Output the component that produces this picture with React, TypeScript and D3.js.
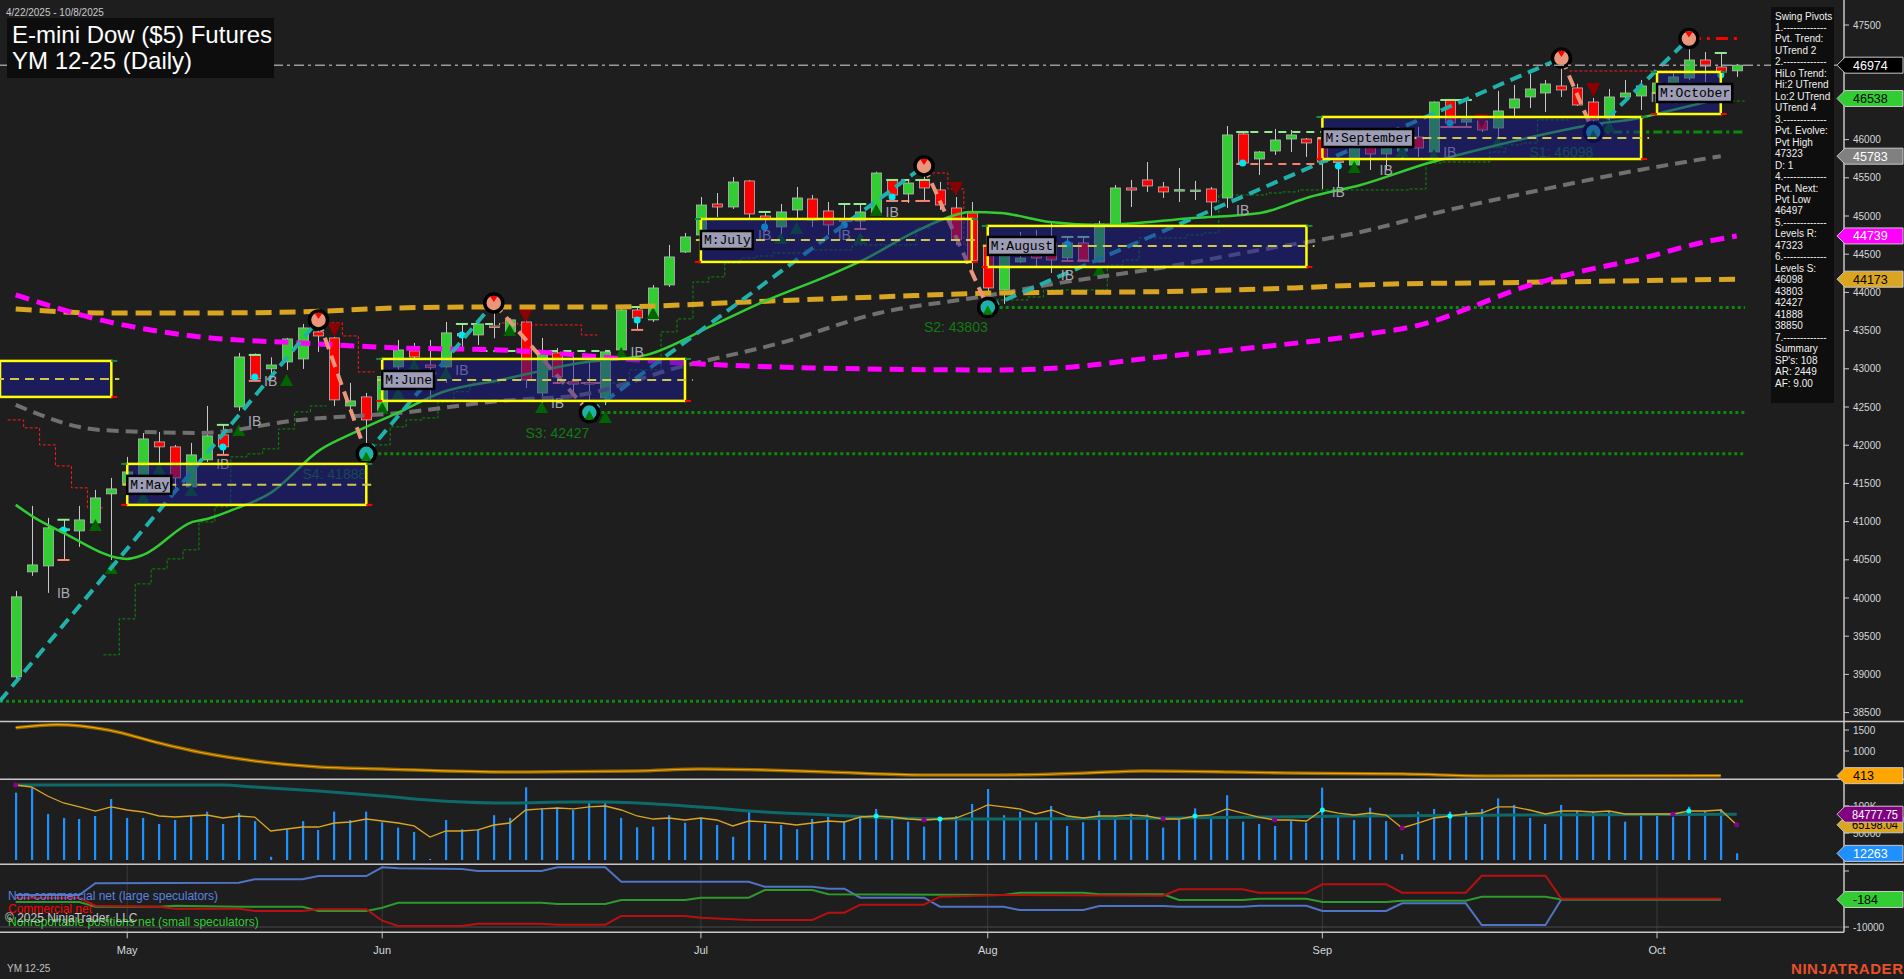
import React from 'react';
import * as d3 from 'd3';

const W = 1904;
const H = 979;
const AX = 1844;
const Y_MAIN_BOTTOM = 721.5;
const Y_ATR_BOTTOM = 779.3;
const Y_VOL_BOTTOM = 864.3;
const Y_COT_BOTTOM = 932.3;
const FONT = 'Liberation Sans, Arial, sans-serif';

// Daily OHLC, 4/22/2025 .. 10/8/2025  [open, high, low, close]
const CANDLES: number[][] = [
  [38968, 40093, 38900, 40015], [40342, 41206, 40290, 40433], [40420, 41049, 40067, 40918], [40890, 41023, 40499, 40905],
  [40878, 41206, 40669, 41022], [40983, 41415, 40970, 41310], [41363, 41572, 40499, 41428], [41500, 41847, 41415, 41650],
  [41546, 42160, 41480, 42082], [42043, 42174, 41716, 41978], [41978, 42004, 41415, 41572], [41454, 42030, 41415, 41873],
  [41808, 42514, 41781, 42122], [42135, 42266, 41873, 41978], [42501, 43208, 42450, 43155], [43182, 43200, 42842, 42868],
  [43000, 43150, 42900, 43050], [43090, 43404, 42985, 43391], [43129, 43587, 42998, 43535], [43483, 43640, 43221, 43430],
  [43404, 43420, 42514, 42593], [42514, 42815, 42460, 42580], [42632, 42684, 41888, 42331], [42450, 43050, 42420, 42900],
  [43025, 43378, 42789, 43247], [43234, 43338, 43116, 43155], [43050, 43378, 42600, 43020], [43025, 43613, 42815, 43470],
  [43430, 43587, 43286, 43460], [43443, 43600, 43312, 43587], [43560, 43862, 43400, 43545], [43483, 43660, 43450, 43640],
  [43613, 43666, 42750, 42855], [42684, 43404, 42553, 43208], [43208, 43273, 42815, 42894], [42830, 43221, 42632, 42800],
  [42820, 43090, 42427, 42800], [42619, 43247, 42527, 43221], [43247, 43796, 43182, 43770], [43770, 43809, 43509, 43666],
  [43640, 44098, 43613, 44058], [44098, 44621, 44071, 44464], [44529, 44778, 44516, 44726], [44752, 45249, 44600, 45144],
  [45157, 45301, 44987, 45118], [45118, 45511, 45092, 45445], [45459, 45472, 44948, 45027], [45000, 45053, 44791, 44960],
  [44857, 45157, 44726, 45053], [45079, 45380, 44948, 45236], [45223, 45275, 44857, 44948], [45066, 45184, 44752, 44883],
  [44950, 45157, 44883, 44930], [44935, 45157, 44830, 45053], [45040, 45580, 45000, 45563], [45472, 45480, 45197, 45275],
  [45288, 45485, 45171, 45432], [45472, 45655, 45197, 45367], [45341, 45446, 45079, 45144], [45105, 45249, 44621, 44687],
  [45040, 45184, 44300, 44420], [44621, 44687, 43803, 44058], [44032, 44687, 43850, 44595], [44400, 44791, 44386, 44450],
  [44500, 44817, 44334, 44450], [44647, 44922, 44255, 44425], [44451, 44726, 44412, 44647], [44647, 44726, 44412, 44425],
  [44399, 44935, 44390, 44896], [44883, 45406, 44857, 45367], [45367, 45472, 45118, 45340], [45472, 45707, 45315, 45393],
  [45380, 45446, 45236, 45315], [45340, 45629, 45184, 45345], [45330, 45459, 45210, 45340], [45354, 45380, 44987, 45184],
  [45236, 46178, 45105, 46061], [46074, 46100, 45668, 45694], [45746, 45850, 45537, 45838], [45851, 46139, 45799, 45995],
  [46008, 46126, 45838, 46061], [46008, 46020, 45773, 45956], [46008, 46087, 45354, 45707], [45720, 45720, 45380, 45700],
  [45668, 46100, 45600, 46034], [45904, 46000, 45602, 45812], [45812, 45950, 45600, 45904], [45850, 46050, 45750, 45950],
  [46034, 46165, 45773, 45890], [45838, 46500, 45800, 46492], [46519, 46530, 46165, 46218], [46230, 46519, 46165, 46270],
  [46244, 46260, 46100, 46126], [46152, 46637, 46034, 46375], [46414, 46715, 46283, 46532], [46558, 46859, 46414, 46663],
  [46610, 46780, 46361, 46728], [46702, 47068, 46558, 46650], [46676, 46730, 46440, 46453], [46492, 46545, 46098, 46257],
  [46283, 46663, 46165, 46558], [46558, 46780, 46519, 46610], [46571, 46780, 46388, 46702], [46610, 46800, 46560, 46740],
  [46741, 46870, 46700, 46820], [46806, 47323, 46780, 47042], [47042, 47147, 46754, 46963], [46950, 47134, 46820, 46885],
  [46900, 46990, 46820, 46974],
];

const VOLUME_K = [
  124.7, 134, 85, 78, 76, 81.5, 113, 78, 78, 66.7,
  74, 82, 89.5, 66.7, 87, 72, 6, 57, 72, 55.6,
  89.5, 74, 89.5, 70, 60, 52, 2, 74, 57, 57,
  83, 78, 134.6, 95.7, 97.6, 92.6, 108, 106, 78, 60.5,
  61.7, 83, 69, 78, 64.8, 43, 90.7, 66.7, 64.8, 57,
  76, 80, 72, 79, 94.5, 79, 71, 61.7, 78, 81.5,
  103.7, 131.5, 83, 89.5, 70, 100, 63, 70, 90.7, 81.5,
  86.4, 84.6, 60, 75, 95.7, 79, 120, 71, 66.7, 63,
  72, 69, 134, 81.5, 74, 97, 72, 11, 89.5, 94.5,
  89.5, 90.7, 94.5, 114, 102, 78, 66.7, 102, 91, 89.5,
  91, 71, 83, 86, 80, 98.7, 90.7, 94, 12.263,
];

const VOL_AVG_K = [
  138.9, 135.2, 118.5, 105.6, 98.2, 90.7, 98.2, 92.6, 88.9, 81.5,
  79.6, 81.5, 83.3, 77.8, 81.5, 79.6, 53.7, 57.4, 61.1, 61.1,
  68.5, 70.4, 75.9, 72.2, 68.5, 63.0, 42.6, 53.7, 53.7, 55.6,
  64.8, 68.5, 92.6, 94.5, 96.3, 94.5, 98.2, 100, 92.6, 81.5,
  75.9, 77.8, 74.1, 77.8, 74.1, 63.0, 72.2, 70.4, 68.5, 64.8,
  68.5, 72.2, 70.4, 79.6, 81.5, 79.6, 75.9, 74.1, 75.9, 77.8,
  88.9, 101.9, 98.2, 94.5, 85.2, 92.6, 81.5, 77.8, 81.5, 81.5,
  83.3, 81.5, 75.9, 75.9, 81.5, 83.3, 94.5, 87.0, 79.6, 74.1,
  74.1, 72.2, 92.6, 87.0, 83.3, 87.0, 83.3, 59.3, 68.5, 77.8,
  81.5, 85.2, 87.0, 98.2, 98.2, 92.6, 85.2, 90.7, 90.7, 88.9,
  90.7, 85.2, 85.2, 85.2, 85.2, 90.7, 90.7, 92.6, 65.198,
];

const VOL_LONG_K = [
  [0, 138.9], [13, 138.9], [15, 135], [19, 127.8], [23, 118.5], [27, 109], [31, 105.6], [35, 107.4], [37, 107.4],
  [39, 105.6], [43, 98], [47, 88.9], [51, 83.3], [55, 77.8], [59, 75.9], [62, 75.9], [73, 77.8], [84, 81.5],
  [94, 83.3], [108, 84.778],
];
const VOL_PURPLE_DOTS = [0, 57, 72, 79, 87, 104, 108];
const VOL_CYAN_DOTS = [54, 58, 74, 82, 90, 105];

const ATR = [
  [0, 1555], [2.6, 1626], [5.8, 1500], [9, 1190], [11.8, 952], [15, 762], [19, 619], [23, 572], [31, 500],
  [39, 524], [43, 572], [47, 548], [51, 500], [57, 429], [61.8, 429], [67.2, 476], [70.8, 524], [76.3, 500],
  [79.8, 476], [87.1, 453], [92.5, 405], [107, 413],
];

const MA_MAGENTA = [
  [0, 43967], [5.3, 43640], [11.6, 43417], [17.8, 43339], [24.1, 43273], [30.4, 43247], [41.7, 43077], [50, 43011],
  [61.8, 42985], [65.5, 43011], [71.8, 43155], [78.1, 43286], [84.4, 43443], [88.6, 43600], [91.7, 43836],
  [94.3, 44045], [98.1, 44268], [101.9, 44438], [105.7, 44647], [108, 44739],
];
const MA_GOLD = [
  [0, 43784], [5.2, 43731], [11.6, 43731], [17.8, 43744], [24.1, 43797], [30.4, 43810], [37.5, 43810], [45.9, 43875],
  [54.2, 43941], [61.8, 43993], [71.8, 44010], [80.2, 44059], [86.4, 44111], [91.9, 44124], [108, 44173],
];
const MA_GRAY = [
  [0, 42527], [5.3, 42200], [11.6, 42161], [17.8, 42331], [24.1, 42423], [30.4, 42580], [35.4, 42658], [41.7, 43025],
  [48, 43339], [54.2, 43731], [60.5, 43941], [65.5, 44124], [71.8, 44320], [78.1, 44556], [84.4, 44791],
  [89.4, 45053], [95.7, 45341], [101.9, 45603], [107, 45783],
];
const MA_GREEN = [
  [0, 41219], [1.1, 41062], [3, 40852], [7, 40512], [8, 40564], [11.1, 40996], [12, 41035], [13.6, 41153], [16, 41376],
  [19.1, 41939], [21.2, 42161], [24.1, 42436], [26.8, 42697], [30.4, 42854], [35.4, 43077], [39.6, 43182],
  [43.8, 43574], [46.9, 43875], [51.1, 44229], [53.2, 44425], [56.3, 44778], [58.4, 44974], [59.9, 45053],
  [61.8, 45040], [64.9, 44922], [68.1, 44883], [73.9, 44974], [78.1, 45040], [81.2, 45249], [84.4, 45406],
  [88.6, 45690], [92.5, 45904], [95.7, 46061], [98.8, 46192], [101.9, 46284], [104, 46388], [107, 46538],
];

// swing pivots [bar, price, type]
const PIVOTS: [number, number, string][] = [
  [-1, 38650, 'L'], [19, 43640, 'H'], [22, 41888, 'L'], [30, 43862, 'H'], [36, 42427, 'L'],
  [57, 45655, 'H'], [61, 43803, 'L'], [97, 47068, 'H'], [99, 46098, 'L'], [105, 47323, 'H'],
];
// support levels [label, bar, price]
const LEVELS: [string, number, number][] = [
  ['', -1, 38650], ['S4: 41888', 22, 41888], ['S3: 42427', 36, 42427], ['S2: 43803', 61, 43803], ['S1: 46098', 99, 46098],
];
// monthly boxes [label, first bar, last bar, top, bottom, mid]
const BOXES: [string, number, number, number, number, number][] = [
  ['', -1.5, 6, 43103, 42632, 42867],
  ['M:May', 7, 22, 41755, 41219, 41481],
  ['M:June', 23, 42, 43129, 42580, 42854],
  ['M:July', 43, 60, 44961, 44399, 44686],
  ['M:August', 61, 81, 44870, 44333, 44608],
  ['M:September', 82, 102, 46296, 45746, 46021],
  ['M:October', 103, 107, 46885, 46335, 46610],
];
const IB_LABELS = [
  [3, 40067], [13, 41755], [15, 42318], [16, 42841], [28, 42985], [34, 42553], [39, 43221], [47, 44752], [52, 44752],
  [55, 45053], [66, 44229], [77, 45079], [83, 45315], [86, 45603], [90, 45838], [103, 46558],
];
const UP_TRI = [
  [5, 40957], [6, 40394], [8, 41323], [9, 41690], [11, 41415], [14, 42200], [17, 42854], [23, 42488], [24, 42684],
  [25, 43051], [27, 42946], [31, 43509], [33, 42501], [37, 42370], [38, 43208], [40, 43731], [48, 44713], [49, 44843],
  [53, 44713], [54, 45079], [68, 44294], [84, 45642], [87, 45851], [89, 45799], [93, 45969], [100, 46178], [105, 46689],
];
const DOWN_TRI = [[20, 43509], [32, 43692], [59, 45354], [92, 46244], [99, 46649]];
const CYAN_DOTS = [
  [3, 40890], [13, 41978], [15, 42894], [28, 43443], [39, 43640], [47, 44857], [52, 44883], [55, 45249], [66, 44634],
  [77, 45694], [83, 45655], [90, 46218], [107, 46846],
];
// inside-bar marks [bar, upper, lower]
const IB_TICKS: [number, number | null, number | null][] = [
  [3, 41023, 40499], [13, 42266, 41873], [15, 43182, 42842], [28, 43587, null], [39, 43809, 43509], [47, 45053, null],
  [52, 45157, null], [53, 45157, 44830], [55, 45472, 45197], [57, 45472, 45197], [66, 44726, 44412], [67, 44726, 44412],
  [77, 46100, null], [90, 46519, 46165], [91, 46519, 46165], [107, 47134, null],
];
const DASH_HI = [[27.7, 30.4, 43587], [29.1, 37.3, 43234], [51.7, 53.4, 45157], [54.7, 57.3, 45472], [76.6, 82, 46100], [89.4, 91.3, 46519]];
const DASH_LO = [[33.7, 37.3, 42815], [54.7, 57.3, 45197], [76.6, 82, 45681], [89.4, 91.3, 46165]];

const STOP_UP = [
  [[6, 39256], [7, 39727], [8, 40185], [9, 40381], [10, 40512], [11, 40630], [12, 40996], [13, 41193], [14, 41847],
    [15, 41886], [16, 41952], [17, 42213], [18, 42436], [19, 42514]],
  [[23, 42004], [24, 42240], [25, 42331], [26, 42357], [27, 42567], [28, 42700], [29, 42815], [30, 42815]],
  [[37, 42815], [38, 42815], [39, 42985], [40, 42985], [41, 43483], [42, 43653], [43, 44137], [44, 44203], [45, 44386],
    [46, 44451], [47, 44477], [48, 44516], [49, 44516], [50, 44556], [51, 44556], [52, 44556], [53, 44621], [54, 44621],
    [55, 44621], [56, 44621], [57, 44843]],
  [[62, 43901], [63, 43901], [64, 43940], [65, 44032], [66, 44032], [67, 44032], [68, 44032], [69, 44359], [70, 44425],
    [71, 44713], [72, 44713], [73, 44713], [74, 44752], [75, 44778], [76, 45275], [77, 45275], [78, 45275], [79, 45301],
    [80, 45315], [81, 45341], [82, 45341], [83, 45341], [84, 45341], [85, 45341], [86, 45341], [87, 45341], [88, 45354],
    [89, 45694], [90, 45707], [91, 45707], [92, 45707], [93, 45838], [94, 45930], [95, 45956], [96, 46257], [97, 46257]],
  [[106, 46505], [107, 46505], [108, 46505]],
];
const STOP_DN = [
  [[0, 42331], [1, 42227], [2, 42004], [3, 41729], [4, 41442], [5, 41180]],
  [[20, 43600], [21, 43430], [22, 42959]],
  [[31, 43600], [32, 43574], [33, 43574], [34, 43574], [35, 43574], [36, 43443]],
  [[58, 45563], [59, 45354], [60, 44621]],
  [[98, 46898], [99, 46898], [100, 46898], [101, 46898], [102, 46898], [103, 46898], [104, 46898]],
];

// COT weekly nets
const COT_LARGE = [
  [0, 1428], [4, 1428], [5, 5605], [14, 5819], [15, 7033], [18, 7033], [19, 8211], [22, 8211], [23, 11317], [24, 10960],
  [28, 10710], [29, 9996], [33, 9996], [34, 11317], [37, 11317], [38, 6176], [46, 6176], [47, 4391], [50, 4391],
  [51, 3677], [52, 3677], [53, 464], [57, 464], [58, -2749], [62, -2749], [63, -3927], [67, -3927], [68, -2499],
  [72, -2499], [73, -2749], [77, -2749], [78, -2392], [81, -2392], [82, -4284], [86, -4284], [87, -1535], [91, -1535],
  [92, -9282], [96, -9282], [97, -107], [107, -107],
];
const COT_COMM = [
  [0, 357], [4, 357], [5, -2392], [9, -2749], [10, -3463], [14, -3463], [15, -4284], [18, -4284], [19, -3677], [22, -3677],
  [23, -7747], [24, -9639], [28, -9639], [29, -8818], [33, -8818], [34, -9175], [37, -9175], [38, -6069], [42, -6069],
  [43, -6676], [46, -7497], [50, -7497], [51, -4891], [52, -4891], [53, -2035], [57, -2035], [58, 821], [62, 1428],
  [72, 1178], [73, 3463], [77, 3463], [78, 2249], [81, 2249], [82, 5248], [86, 5248], [87, 2249], [91, 2249],
  [92, 8318], [96, 8318], [97, 107], [107, 107],
];
const COT_SMALL = [
  [0, -1071], [4, -1071], [5, -2749], [9, -2749], [10, -2392], [14, -2749], [18, -2749], [19, -4284], [22, -4284],
  [23, -3106], [24, -1321], [33, -1321], [34, -1785], [37, -1785], [38, -357], [42, -357], [43, 464], [46, 464],
  [47, 3213], [50, 3213], [51, 1678], [62, 1428], [63, 2249], [67, 2249], [68, 1678], [72, 1678], [73, -357],
  [77, -357], [78, 107], [81, 107], [82, -1071], [86, -1071], [87, -607], [91, -607], [92, 821], [96, 821],
  [97, -184], [107, -184],
];

const MONTHS: [string, number][] = [['May', 7], ['Jun', 23], ['Jul', 43], ['Aug', 61], ['Sep', 82], ['Oct', 103]];
const PRICE_TICKS = [38500, 39000, 39500, 40000, 40500, 41000, 41500, 42000, 42500, 43000, 43500, 44000, 44500, 45000, 45500, 46000, 46500, 47000, 47500];
const LAST_PRICE = 46974;
// right-axis price markers [value, background, text colour]
const MAIN_TAGS: [number, string, string][] = [
  [46974, '#000000', '#ffffff'], [46538, '#32cd32', '#000000'], [45783, '#808080', '#ffffff'],
  [44739, '#ff00ff', '#ffffff'], [44173, '#daa520', '#000000'],
];

const INFO_LINES = [
  'Swing Pivots', '1.-------------', 'Pvt. Trend:', 'UTrend 2', '2.-------------', 'HiLo Trend:', 'Hi:2 UTrend',
  'Lo:2 UTrend', 'UTrend 4', '3.-------------', 'Pvt. Evolve:', 'Pvt High', '47323', 'D: 1', '4.-------------',
  'Pvt. Next:', 'Pvt Low', '46497', '5.-------------', 'Levels R:', '47323', '6.-------------', 'Levels S:', '46098',
  '43803', '42427', '41888', '38850', '7.-------------', 'Summary', "SP's: 108", 'AR: 2449', 'AF: 9.00',
];

export default function App() {
  const x = d3.scaleLinear().domain([0, 108]).range([15.7, 1736.7]);
  const y = d3.scaleLinear().domain([38500, 47500]).range([712.6, 25]);
  const yA = d3.scaleLinear().domain([1000, 1500]).range([751, 730]);
  const yV = d3.scaleLinear().domain([0, 100]).range([860, 806]);
  const yC = d3.scaleLinear().domain([-10000, 10000]).range([927, 871]);

  const knotLine = (ys: (v: number) => number, curve: any = d3.curveMonotoneX) =>
    d3.line<number[]>().x(d => x(d[0])).y(d => ys(d[1])).curve(curve);

  const stairPath = (seg: number[][]) => {
    let d = '';
    seg.forEach(([i, v], k) => {
      const xa = x(i - 0.5), xb = x(i + 0.5), yy = y(v);
      d += (k === 0 ? `M${xa},${yy}` : `L${xa},${yy}`) + `H${xb}`;
    });
    return d;
  };

  const tag = (ty: number, bg: string, fg: string, label: string, key: string) => (
    <g key={key}>
      <polygon points={`${AX - 7},${ty} ${AX + 1},${ty - 8} 1903,${ty - 8} 1903,${ty + 8} ${AX + 1},${ty + 8}`}
        fill={bg} stroke="#c8c8c8" strokeWidth={1} />
      {label.length > 6
        ? <text x={1852} y={ty + 4.5} fontSize={12.5} fontFamily={FONT} fill={fg} textLength={46} lengthAdjust="spacingAndGlyphs">{label}</text>
        : <text x={1853} y={ty + 4.5} fontSize={12.5} fontFamily={FONT} fill={fg}>{label}</text>}
    </g>
  );

  const volLine = d3.line<number>().x((_, i) => x(i)).y(d => yV(d));
  const mainTagYs = MAIN_TAGS.map(t => y(t[0]));

  return (
    <svg width={W} height={H} style={{ position: 'absolute', left: 0, top: 0, display: 'block', background: '#1e1e1e' }}>
      <defs>
        <clipPath id="mainClip"><rect x={0} y={0} width={AX} height={Y_MAIN_BOTTOM} /></clipPath>
        <clipPath id="atrClip"><rect x={0} y={Y_MAIN_BOTTOM} width={AX} height={Y_ATR_BOTTOM - Y_MAIN_BOTTOM} /></clipPath>
        <clipPath id="volClip"><rect x={0} y={Y_ATR_BOTTOM} width={AX} height={Y_VOL_BOTTOM - Y_ATR_BOTTOM} /></clipPath>
        <clipPath id="cotClip"><rect x={0} y={Y_VOL_BOTTOM} width={AX} height={Y_COT_BOTTOM - Y_VOL_BOTTOM} /></clipPath>
      </defs>
      <rect x={0} y={0} width={W} height={H} fill="#1e1e1e" />

      {/* ===== MAIN PRICE PANEL ===== */}
      <g clipPath="url(#mainClip)">
        {LEVELS.map(([lab, i, v], k) => (
          <line key={'lv' + k} x1={Math.max(0, x(i))} x2={1745} y1={y(v)} y2={y(v)}
            stroke="#0a8a0a" strokeWidth={3} strokeDasharray={lab.startsWith('S1') ? '9 4 3 4' : '3 3'} />
        ))}
        {STOP_UP.map((s, k) => <path key={'su' + k} d={stairPath(s)} fill="none" stroke="#0c8c0c" strokeWidth={1} strokeDasharray="3 2" />)}
        {STOP_DN.map((s, k) => <path key={'sd' + k} d={stairPath(s)} fill="none" stroke="#ff1a1a" strokeWidth={1} strokeDasharray="3 2" />)}
        {DASH_HI.map(([a, b, v], k) => <line key={'dh' + k} x1={x(a)} x2={x(b)} y1={y(v)} y2={y(v)} stroke="#90ee90" strokeWidth={2} strokeDasharray="8 6" />)}
        {DASH_LO.map(([a, b, v], k) => <line key={'dl' + k} x1={x(a)} x2={x(b)} y1={y(v)} y2={y(v)} stroke="#fa8072" strokeWidth={2} strokeDasharray="8 6" />)}

        {CANDLES.map(([o, h, l, c], i) => {
          const cx = Math.round(x(i)) + 0.5;
          const yt = y(Math.max(o, c));
          const yb = y(Math.min(o, c));
          const up = c >= o;
          return (
            <g key={'c' + i}>
              <line x1={cx} x2={cx} y1={y(h)} y2={y(l)} stroke="#c8c8c8" strokeWidth={1} />
              <rect x={cx - 5} y={yt} width={10} height={Math.max(1.5, yb - yt)} fill={up ? '#32cd32' : '#ff0000'}
                stroke="#b8b8b8" strokeWidth={0.8} />
            </g>
          );
        })}
        {IB_TICKS.map(([i, hi, lo], k) => (
          <g key={'it' + k}>
            {hi !== null && <line x1={x(i) - 6} x2={x(i) + 6} y1={y(hi)} y2={y(hi)} stroke="#90ee90" strokeWidth={2} />}
            {lo !== null && <line x1={x(i) - 6} x2={x(i) + 6} y1={y(lo)} y2={y(lo)} stroke="#fa8072" strokeWidth={2} />}
          </g>
        ))}
        {UP_TRI.map(([i, v], k) => (
          <polygon key={'ut' + k} points={`${x(i)},${y(v) - 6} ${x(i) - 6.5},${y(v) + 6} ${x(i) + 6.5},${y(v) + 6}`} fill="#006400" />
        ))}
        {DOWN_TRI.map(([i, v], k) => (
          <polygon key={'dt' + k} points={`${x(i) - 7},${y(v) - 7} ${x(i) + 7},${y(v) - 7} ${x(i)},${y(v) + 7}`} fill="#8b0000" />
        ))}
        {CYAN_DOTS.map(([i, v], k) => <circle key={'cd' + k} cx={x(i)} cy={y(v)} r={3.5} fill="#00e5ee" />)}

        <path d={knotLine(y)(MA_GRAY) || ''} fill="none" stroke="#707070" strokeWidth={4} strokeDasharray="12 7" />
        <path d={knotLine(y)(MA_GOLD) || ''} fill="none" stroke="#daa520" strokeWidth={5} strokeDasharray="16 8" />
        <path d={knotLine(y)(MA_MAGENTA) || ''} fill="none" stroke="#ff00ff" strokeWidth={5} strokeDasharray="14 8" />
        <path d={knotLine(y)(MA_GREEN) || ''} fill="none" stroke="#32cd32" strokeWidth={2.5} />

        {PIVOTS.slice(1).map((p, k) => {
          const a = PIVOTS[k];
          const upLeg = p[2] === 'H';
          return <line key={'leg' + k} x1={x(a[0])} y1={y(a[1])} x2={x(p[0])} y2={y(p[1])}
            stroke={upLeg ? '#20b2aa' : '#e9967a'} strokeWidth={4} strokeDasharray="12 7" />;
        })}
        <line x1={x(105)} x2={1743} y1={y(47323)} y2={y(47323)} stroke="#ff0000" strokeWidth={3} strokeDasharray="12 6 3 6" />
        {PIVOTS.filter(p => p[0] >= 0).map((p, k) => {
          const cx = x(p[0]), cy = y(p[1]);
          const hi = p[2] === 'H';
          return (
            <g key={'pv' + k}>
              <circle cx={cx} cy={cy} r={9} fill={hi ? '#e9967a' : '#20b2aa'} stroke="#000" strokeWidth={3.5} />
              {hi
                ? <polygon points={`${cx - 4},${cy - 7} ${cx + 4},${cy - 7} ${cx},${cy - 1}`} fill="#ff0000" />
                : <polygon points={`${cx},${cy - 2} ${cx - 5},${cy + 7} ${cx + 5},${cy + 7}`} fill="#008000" />}
            </g>
          );
        })}
        {IB_LABELS.map(([i, v], k) => (
          <text key={'ib' + k} x={x(i)} y={y(v) + 5} textAnchor="middle" fontFamily={FONT} fontSize={14} fill="#a8a8b4">IB</text>
        ))}
        {LEVELS.filter(l => l[0]).map(([lab, i, v], k) => (
          <text key={'sl' + k} x={x(i)} y={y(v) + 25} textAnchor="end" fontFamily={FONT} fontSize={14} fill="#127a12">{lab}</text>
        ))}

        {BOXES.map(([lab, i0, i1, top, bot, mid], k) => {
          const x0 = Math.max(0, x(i0));
          const x1 = x(i1);
          return (
            <g key={'bx' + k}>
              <rect x={x0} y={y(top)} width={x1 - x0} height={y(bot) - y(top)} fill="#191996" fillOpacity={0.5}
                stroke="#ffff00" strokeWidth={2.5} />
              <line x1={x0 - 5} x2={x1 + 8} y1={y(mid)} y2={y(mid)} stroke="#cdc84c" strokeWidth={2} strokeDasharray="9 6" />
              <line x1={x1} x2={x1 + 6} y1={y(top)} y2={y(top)} stroke="#1e8a3c" strokeWidth={2} />
              <line x1={x1} x2={x1 + 6} y1={y(bot)} y2={y(bot)} stroke="#ff0000" strokeWidth={2} />
              <line x1={x0 - 6} x2={x0} y1={y(top)} y2={y(top)} stroke="#1e8a3c" strokeWidth={2} />
              <line x1={x0 - 6} x2={x0} y1={y(bot)} y2={y(bot)} stroke="#ff0000" strokeWidth={2} />
              {lab && (
                <g>
                  <rect x={x0} y={y(mid) - 9} width={lab.length * 7.8 + 5} height={18} fill="#9d9db5" stroke="#000" strokeWidth={2.5} />
                  <text x={x0 + 3} y={y(mid) + 4.5} fontFamily="Liberation Mono, DejaVu Sans Mono, monospace" fontSize={13} fill="#000">{lab}</text>
                </g>
              )}
            </g>
          );
        })}
        <line x1={0} x2={AX} y1={y(LAST_PRICE)} y2={y(LAST_PRICE)} stroke="#9a9a9a" strokeWidth={1.5} strokeDasharray="10 4 3 4" />
      </g>

      {/* title */}
      <text x={6} y={16} fontFamily={FONT} fontSize={10} fill="#c8c8c8">4/22/2025 - 10/8/2025</text>
      <rect x={7} y={18} width={267} height={60} fill="#0d0d0d" />
      <text x={12} y={43} fontFamily={FONT} fontSize={24} fill="#ffffff">E-mini Dow ($5) Futures</text>
      <text x={12} y={69} fontFamily={FONT} fontSize={24} fill="#ffffff">YM 12-25 (Daily)</text>

      {/* info panel */}
      <rect x={1771} y={7} width={63} height={396} fill="#0e0e0e" />
      {INFO_LINES.map((t, k) => (
        <text key={'in' + k} x={1775} y={19.5 + k * 11.47} fontFamily={FONT} fontSize={10} fill="#f0f0f0">{t}</text>
      ))}

      {/* ===== ATR PANEL ===== */}
      <g clipPath="url(#atrClip)">
        <path d={knotLine(yA)(ATR) || ''} fill="none" stroke="#8b6508" strokeWidth={3.5} />
        <path d={knotLine(yA)(ATR) || ''} fill="none" stroke="#ffa500" strokeWidth={1.2} />
      </g>

      {/* ===== VOLUME PANEL ===== */}
      <g clipPath="url(#volClip)">
        {VOLUME_K.map((v, i) => (
          <rect key={'v' + i} x={Math.round(x(i)) - 1} y={yV(v)} width={2.2} height={yV(0) - yV(v)} fill="#1e90ff" />
        ))}
        <path d={knotLine(yV)(VOL_LONG_K) || ''} fill="none" stroke="#0e6a6a" strokeWidth={3} />
        <path d={volLine(VOL_AVG_K) || ''} fill="none" stroke="#daa520" strokeWidth={1.3} />
        {VOL_PURPLE_DOTS.map(i => <circle key={'pd' + i} cx={x(i)} cy={yV(VOL_AVG_K[i])} r={2.5} fill="#8b008b" />)}
        {VOL_CYAN_DOTS.map(i => <circle key={'cy' + i} cx={x(i)} cy={yV(VOL_AVG_K[i])} r={2.5} fill="#00ffff" />)}
      </g>

      {/* ===== COT PANEL ===== */}
      <g clipPath="url(#cotClip)">
        {MONTHS.map(([m, i]) => <line key={'g' + m} x1={x(i)} x2={x(i)} y1={Y_VOL_BOTTOM} y2={Y_COT_BOTTOM} stroke="#3a3a3a" strokeWidth={1} />)}
        <line x1={0} x2={AX} y1={yC(-10000)} y2={yC(-10000)} stroke="#4a4a4a" strokeWidth={1.2} />
        <path d={knotLine(yC, d3.curveLinear)(COT_LARGE) || ''} fill="none" stroke="#4f74c4" strokeWidth={2} />
        <path d={knotLine(yC, d3.curveLinear)(COT_SMALL) || ''} fill="none" stroke="#2e9a2e" strokeWidth={2} />
        <path d={knotLine(yC, d3.curveLinear)(COT_COMM) || ''} fill="none" stroke="#b81010" strokeWidth={2} />
        <text x={8} y={900} fontFamily={FONT} fontSize={12} fill="#5a82e0">Non-commercial net (large speculators)</text>
        <text x={8} y={913} fontFamily={FONT} fontSize={12} fill="#ff0000">Commercial net</text>
        <text x={8} y={926} fontFamily={FONT} fontSize={12} fill="#32cd32">Nonreportable positions net (small speculators)</text>
        <text x={5} y={922} fontFamily={FONT} fontSize={12} fill="#c8c8c8">© 2025 NinjaTrader, LLC</text>
      </g>

      {/* separators and axis */}
      <line x1={0} x2={W} y1={Y_MAIN_BOTTOM} y2={Y_MAIN_BOTTOM} stroke="#c8c8c8" strokeWidth={1.5} />
      <line x1={0} x2={W} y1={Y_ATR_BOTTOM} y2={Y_ATR_BOTTOM} stroke="#c8c8c8" strokeWidth={1.5} />
      <line x1={0} x2={W} y1={Y_VOL_BOTTOM} y2={Y_VOL_BOTTOM} stroke="#c8c8c8" strokeWidth={1.5} />
      <line x1={0} x2={AX} y1={Y_COT_BOTTOM} y2={Y_COT_BOTTOM} stroke="#c8c8c8" strokeWidth={1.5} />
      <line x1={AX} x2={AX} y1={0} y2={Y_COT_BOTTOM} stroke="#c8c8c8" strokeWidth={1.5} />

      {PRICE_TICKS.map(v => {
        const ty = y(v);
        const hidden = mainTagYs.some(t => Math.abs(t - ty) < 9);
        return (
          <g key={'pt' + v}>
            <line x1={AX} x2={AX + 5} y1={ty} y2={ty} stroke="#c8c8c8" />
            {!hidden && <text x={1853} y={ty + 3.5} fontFamily={FONT} fontSize={10} fill="#d4d8dc">{v}</text>}
          </g>
        );
      })}
      {[1000, 1500].map(v => (
        <g key={'at' + v}>
          <line x1={AX} x2={AX + 5} y1={yA(v)} y2={yA(v)} stroke="#c8c8c8" />
          <text x={1853} y={yA(v) + 3.5} fontFamily={FONT} fontSize={10} fill="#d4d8dc">{v}</text>
        </g>
      ))}
      {[[50, '50000'], [100, '100K']].map(([v, t]) => (
        <g key={'vt' + v}>
          <line x1={AX} x2={AX + 5} y1={yV(v as number)} y2={yV(v as number)} stroke="#c8c8c8" />
          <text x={1853} y={yV(v as number) + 3.5} fontFamily={FONT} fontSize={10} fill="#d4d8dc">{t}</text>
        </g>
      ))}
      <line x1={AX} x2={AX + 5} y1={yC(10000)} y2={yC(10000)} stroke="#c8c8c8" />
      <line x1={AX} x2={AX + 5} y1={yC(-10000)} y2={yC(-10000)} stroke="#c8c8c8" />
      <text x={1853} y={yC(-10000) + 3.5} fontFamily={FONT} fontSize={10} fill="#d4d8dc">-10000</text>

      {/* price tags */}
      {MAIN_TAGS.map(([v, bg, fg], k) => tag(y(v), bg, fg, String(v), 'mt' + k))}
      {tag(yA(413), '#ffa500', '#000000', '413', 't6')}
      {tag(yV(65.198), '#daa520', '#000000', '65198.04', 't7')}
      {tag(yV(84.778), '#800080', '#ffffff', '84777.75', 't8')}
      {tag(yV(12.263), '#1e90ff', '#ffffff', '12263', 't9')}
      {tag(yC(-184), '#32cd32', '#000000', '-184', 't10')}

      {/* x axis */}
      {MONTHS.map(([m, i]) => (
        <g key={'xm' + m}>
          <line x1={x(i)} x2={x(i)} y1={Y_COT_BOTTOM} y2={Y_COT_BOTTOM + 6} stroke="#c8c8c8" />
          <text x={x(i)} y={954} textAnchor="middle" fontFamily={FONT} fontSize={11} fill="#d4d8dc">{m}</text>
        </g>
      ))}
      <text x={7} y={972} fontFamily={FONT} fontSize={10} fill="#c0c0c0">YM 12-25</text>
      <text x={1791} y={974} fontFamily={FONT} fontSize={15} fontWeight="bold" fill="#e8502a" textLength={112}>NINJATRADER</text>
    </svg>
  );
}
